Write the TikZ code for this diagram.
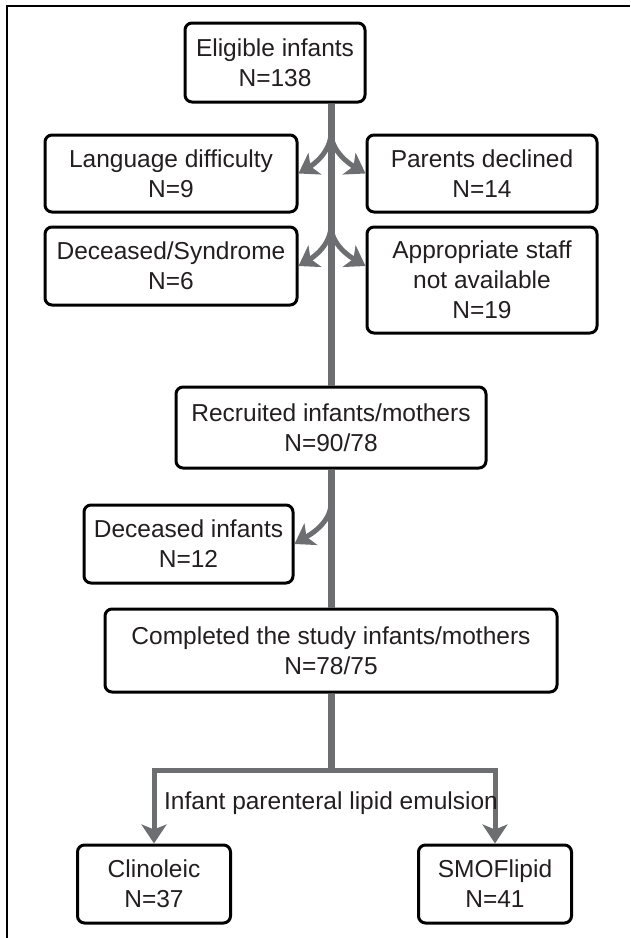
\documentclass[tikz,border=0pt]{standalone}
\usepackage{fontspec}
\setmainfont{Liberation Sans}
\usetikzlibrary{arrows.meta}

\definecolor{txtcol}{HTML}{231F20}
\definecolor{arrcol}{HTML}{6D6E71}

\tikzset{
  box/.style={draw, line width=3pt, rounded corners=7pt, fill=white,
    align=center, inner sep=0pt, text=txtcol,
    font=\fontsize{24.5}{30}\selectfont},
  trunk/.style={draw=arrcol, line width=7pt},
  flow/.style={draw=arrcol, line width=5pt,
    -{Stealth[length=19pt,width=25pt,inset=5pt]}},
  lbl/.style={text=txtcol, inner sep=0pt, font=\fontsize{24.5}{30}\selectfont}
}

\begin{document}
\begin{tikzpicture}[x=1pt, y=-1pt]
  \useasboundingbox (0,0) rectangle (630,938);
  \draw[line width=1.5pt] (7,938) -- (7,6) -- (630,6); % frame

  % boxes
  \node[box, minimum width=180, minimum height=79] (elig) at (275,62.5) {Eligible infants\\N=138};
  \node[box, minimum width=252, minimum height=77] (lang) at (171,173.5) {Language difficulty\\N=9};
  \node[box, minimum width=230, minimum height=77] (parent) at (482,173.5) {Parents declined\\N=14};
  \node[box, minimum width=252, minimum height=78] (decsyn) at (171,266) {Deceased/Syndrome\\N=6};
  \node[box, minimum width=230, minimum height=106] (staff) at (482,280) {Appropriate staff\\not available\\N=19};
  \node[box, minimum width=310, minimum height=81] (recr) at (331,427.5) {Recruited infants/mothers\\N=90/78};
  \node[box, minimum width=209, minimum height=78] (decinf) at (188.5,544) {Deceased infants\\N=12};
  \node[box, minimum width=452, minimum height=83] (compl) at (331,650.5) {Completed the study infants/mothers\\N=78/75};
  \node[box, minimum width=153, minimum height=78] (clin) at (154,884) {Clinoleic\\N=37};
  \node[box, minimum width=153, minimum height=78] (smof) at (495,884) {SMOFlipid\\N=41};

  % trunk
  \coordinate (top) at (recr.north |- elig.south);
  \coordinate (split) at (331,770);
  \draw[trunk] (top) -- (recr.north);
  \draw[trunk] (recr.south) -- (compl.north);
  \draw[trunk] (compl.south) -- (split);

  % exclusions
  \coordinate (br1) at (331,132);
  \coordinate (br2) at (331,225);
  \coordinate (br3) at (331,503);
  \draw[flow] (br1) .. controls +(0,20) and +(15,-9) .. (lang.east);
  \draw[flow] (br1) .. controls +(0,20) and +(-15,-9) .. (parent.west);
  \draw[flow] (br2) .. controls +(0,20) and +(15,-9) .. (decsyn.east);
  \draw[flow] (br2) .. controls +(0,20) and +(-15,-9) .. (staff.west |- decsyn.east);
  \draw[flow] (br3) .. controls +(0,20) and +(15,-9) .. (decinf.east);

  % randomisation
  \draw[flow] (split) -| (clin.north);
  \draw[flow] (split) -| (smof.north);
  \node[lbl] (emul) at (331,803) {Infant parenteral lipid emulsion};
\end{tikzpicture}
\end{document}
